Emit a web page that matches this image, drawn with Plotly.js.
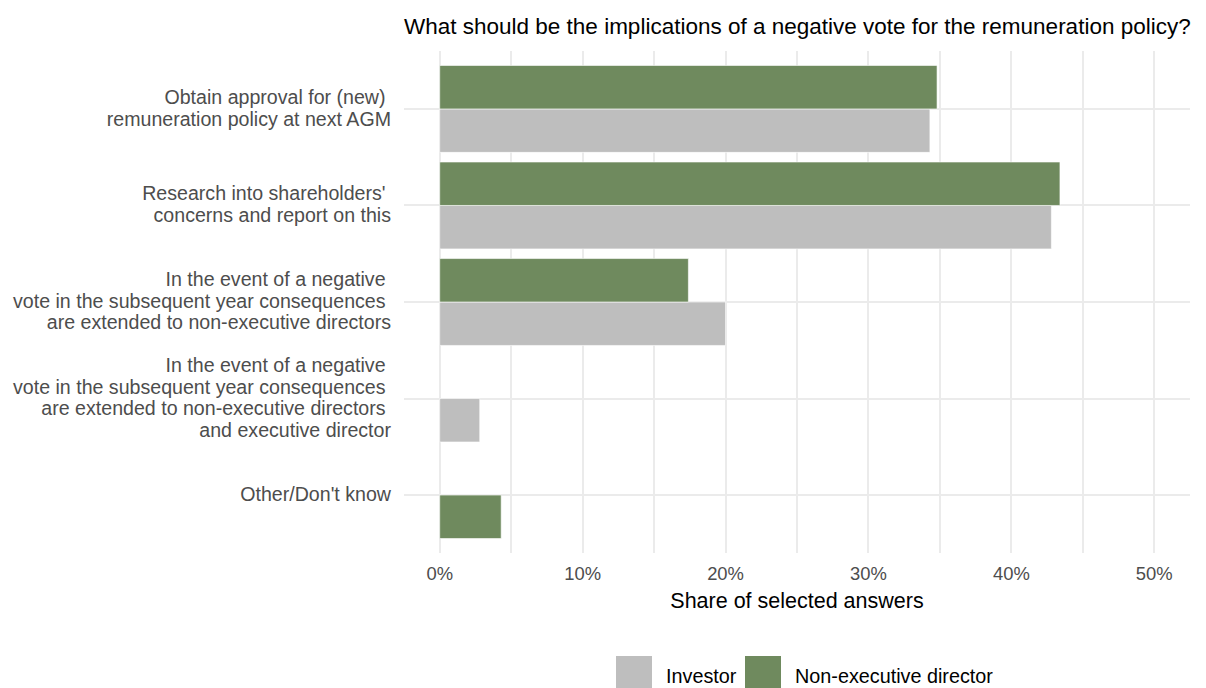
<!DOCTYPE html>
<html>
<head>
<meta charset="utf-8">
<script src="https://cdn.plot.ly/plotly-3.0.1.min.js"></script>
<style>html,body{margin:0;padding:0;background:#fff;}#chart{width:1206px;height:688px;}</style>
</head>
<body>
<div id="chart"></div>
<script>
var categoryLines = [
  ['Obtain approval for (new) ', 'remuneration policy at next AGM'],
  ["Research into shareholders' ", 'concerns and report on this'],
  ['In the event of a negative ', 'vote in the subsequent year consequences ', 'are extended to non-executive directors'],
  ['In the event of a negative ', 'vote in the subsequent year consequences ', 'are extended to non-executive directors ', 'and executive director'],
  ["Other/Don't know"]
];
var investor = [0.343, 0.428, 0.200, 0.028, null];
var nonExec  = [0.348, 0.434, 0.174, null, 0.043];
var seriesNames = ['Investor', 'Non-executive director'];
var seriesColors = ['#bebebe', '#6f8a5e'];
var xTickVals = [0, 0.1, 0.2, 0.3, 0.4, 0.5];

var categories = categoryLines.map(function(lines){
  return lines.map(function(l){
    return '<span style="font-size:19.6px">' + l.replace(/ $/, '\u00a0') + '</span>';
  }).join('<br>');
});

var slot = 0.45;
var invOffset = investor.map(function(){ return 0; });
var nedOffset = nonExec.map(function(v, i){ return investor[i] == null ? 0 : -slot; });

var traces = [
  {
    type: 'bar', orientation: 'h', name: seriesNames[0],
    x: investor, y: categories,
    width: slot, offset: invOffset,
    marker: {color: seriesColors[0], line: {color: '#ffffff', width: 0.6}},
    hoverinfo: 'x+name', showlegend: false
  },
  {
    type: 'bar', orientation: 'h', name: seriesNames[1],
    x: nonExec, y: categories,
    width: slot, offset: nedOffset,
    marker: {color: seriesColors[1], line: {color: '#ffffff', width: 0.6}},
    hoverinfo: 'x+name', showlegend: false
  }
];

// plot area in pixels
var M = {l: 404, r: 16, t: 51, b: 135};
var PW = 1206 - M.l - M.r, PH = 688 - M.t - M.b;
function px2x(px){ return (px - M.l) / PW; }
function py2y(py){ return (688 - M.b - py) / PH; }

// manual legend (large square keys, like the reference)
var legendKeys = [616, 745];
var legendTexts = [664, 793];
var shapes = [], annotations = [];
seriesNames.forEach(function(name, i){
  shapes.push({
    type: 'rect', xref: 'paper', yref: 'paper',
    x0: px2x(legendKeys[i]), x1: px2x(legendKeys[i] + 36),
    y0: py2y(656), y1: py2y(692),
    fillcolor: seriesColors[i], line: {width: 0}
  });
  annotations.push({
    xref: 'paper', yref: 'paper', x: px2x(legendTexts[i]), y: py2y(676),
    xanchor: 'left', yanchor: 'middle', showarrow: false,
    text: name, font: {size: 19.8, color: '#000000'}
  });
});

var layout = {
  width: 1206, height: 688,
  margin: M,
  paper_bgcolor: '#ffffff', plot_bgcolor: '#ffffff',
  barmode: 'overlay',
  font: {family: 'Liberation Sans, Arial, sans-serif', color: '#4d4d4d', size: 16},
  title: {
    text: 'What should be the implications of a negative vote for the remuneration policy?',
    font: {size: 22.5, color: '#000000', family: 'Liberation Sans, Arial, sans-serif'},
    xref: 'paper', x: 0, xanchor: 'left',
    yref: 'container', y: 1 - 26/688, yanchor: 'middle'
  },
  xaxis: {
    range: [-0.025, 0.525],
    tickvals: xTickVals, tickformat: '.0%',
    showgrid: true, gridcolor: '#ebebeb', gridwidth: 2,
    minor: {dtick: 0.05, showgrid: true, gridcolor: '#ebebeb', gridwidth: 1.5},
    zeroline: false, showline: false, ticks: '',
    ticklabelstandoff: 8,
    tickfont: {size: 18.4, color: '#4d4d4d'},
    title: {text: 'Share of selected answers', font: {size: 21.5, color: '#000000'}, standoff: 9}
  },
  yaxis: {
    type: 'category',
    categoryorder: 'array', categoryarray: categories,
    range: [4.6, -0.6],
    showgrid: true, gridcolor: '#ebebeb', gridwidth: 2,
    zeroline: false, showline: false, ticks: '',
    ticklabelstandoff: 12,
    tickfont: {size: 16.6, color: '#4d4d4d'}
  },
  showlegend: false,
  shapes: shapes,
  annotations: annotations
};

Plotly.newPlot('chart', traces, layout, {displayModeBar: false, responsive: false});
</script>
</body>
</html>
